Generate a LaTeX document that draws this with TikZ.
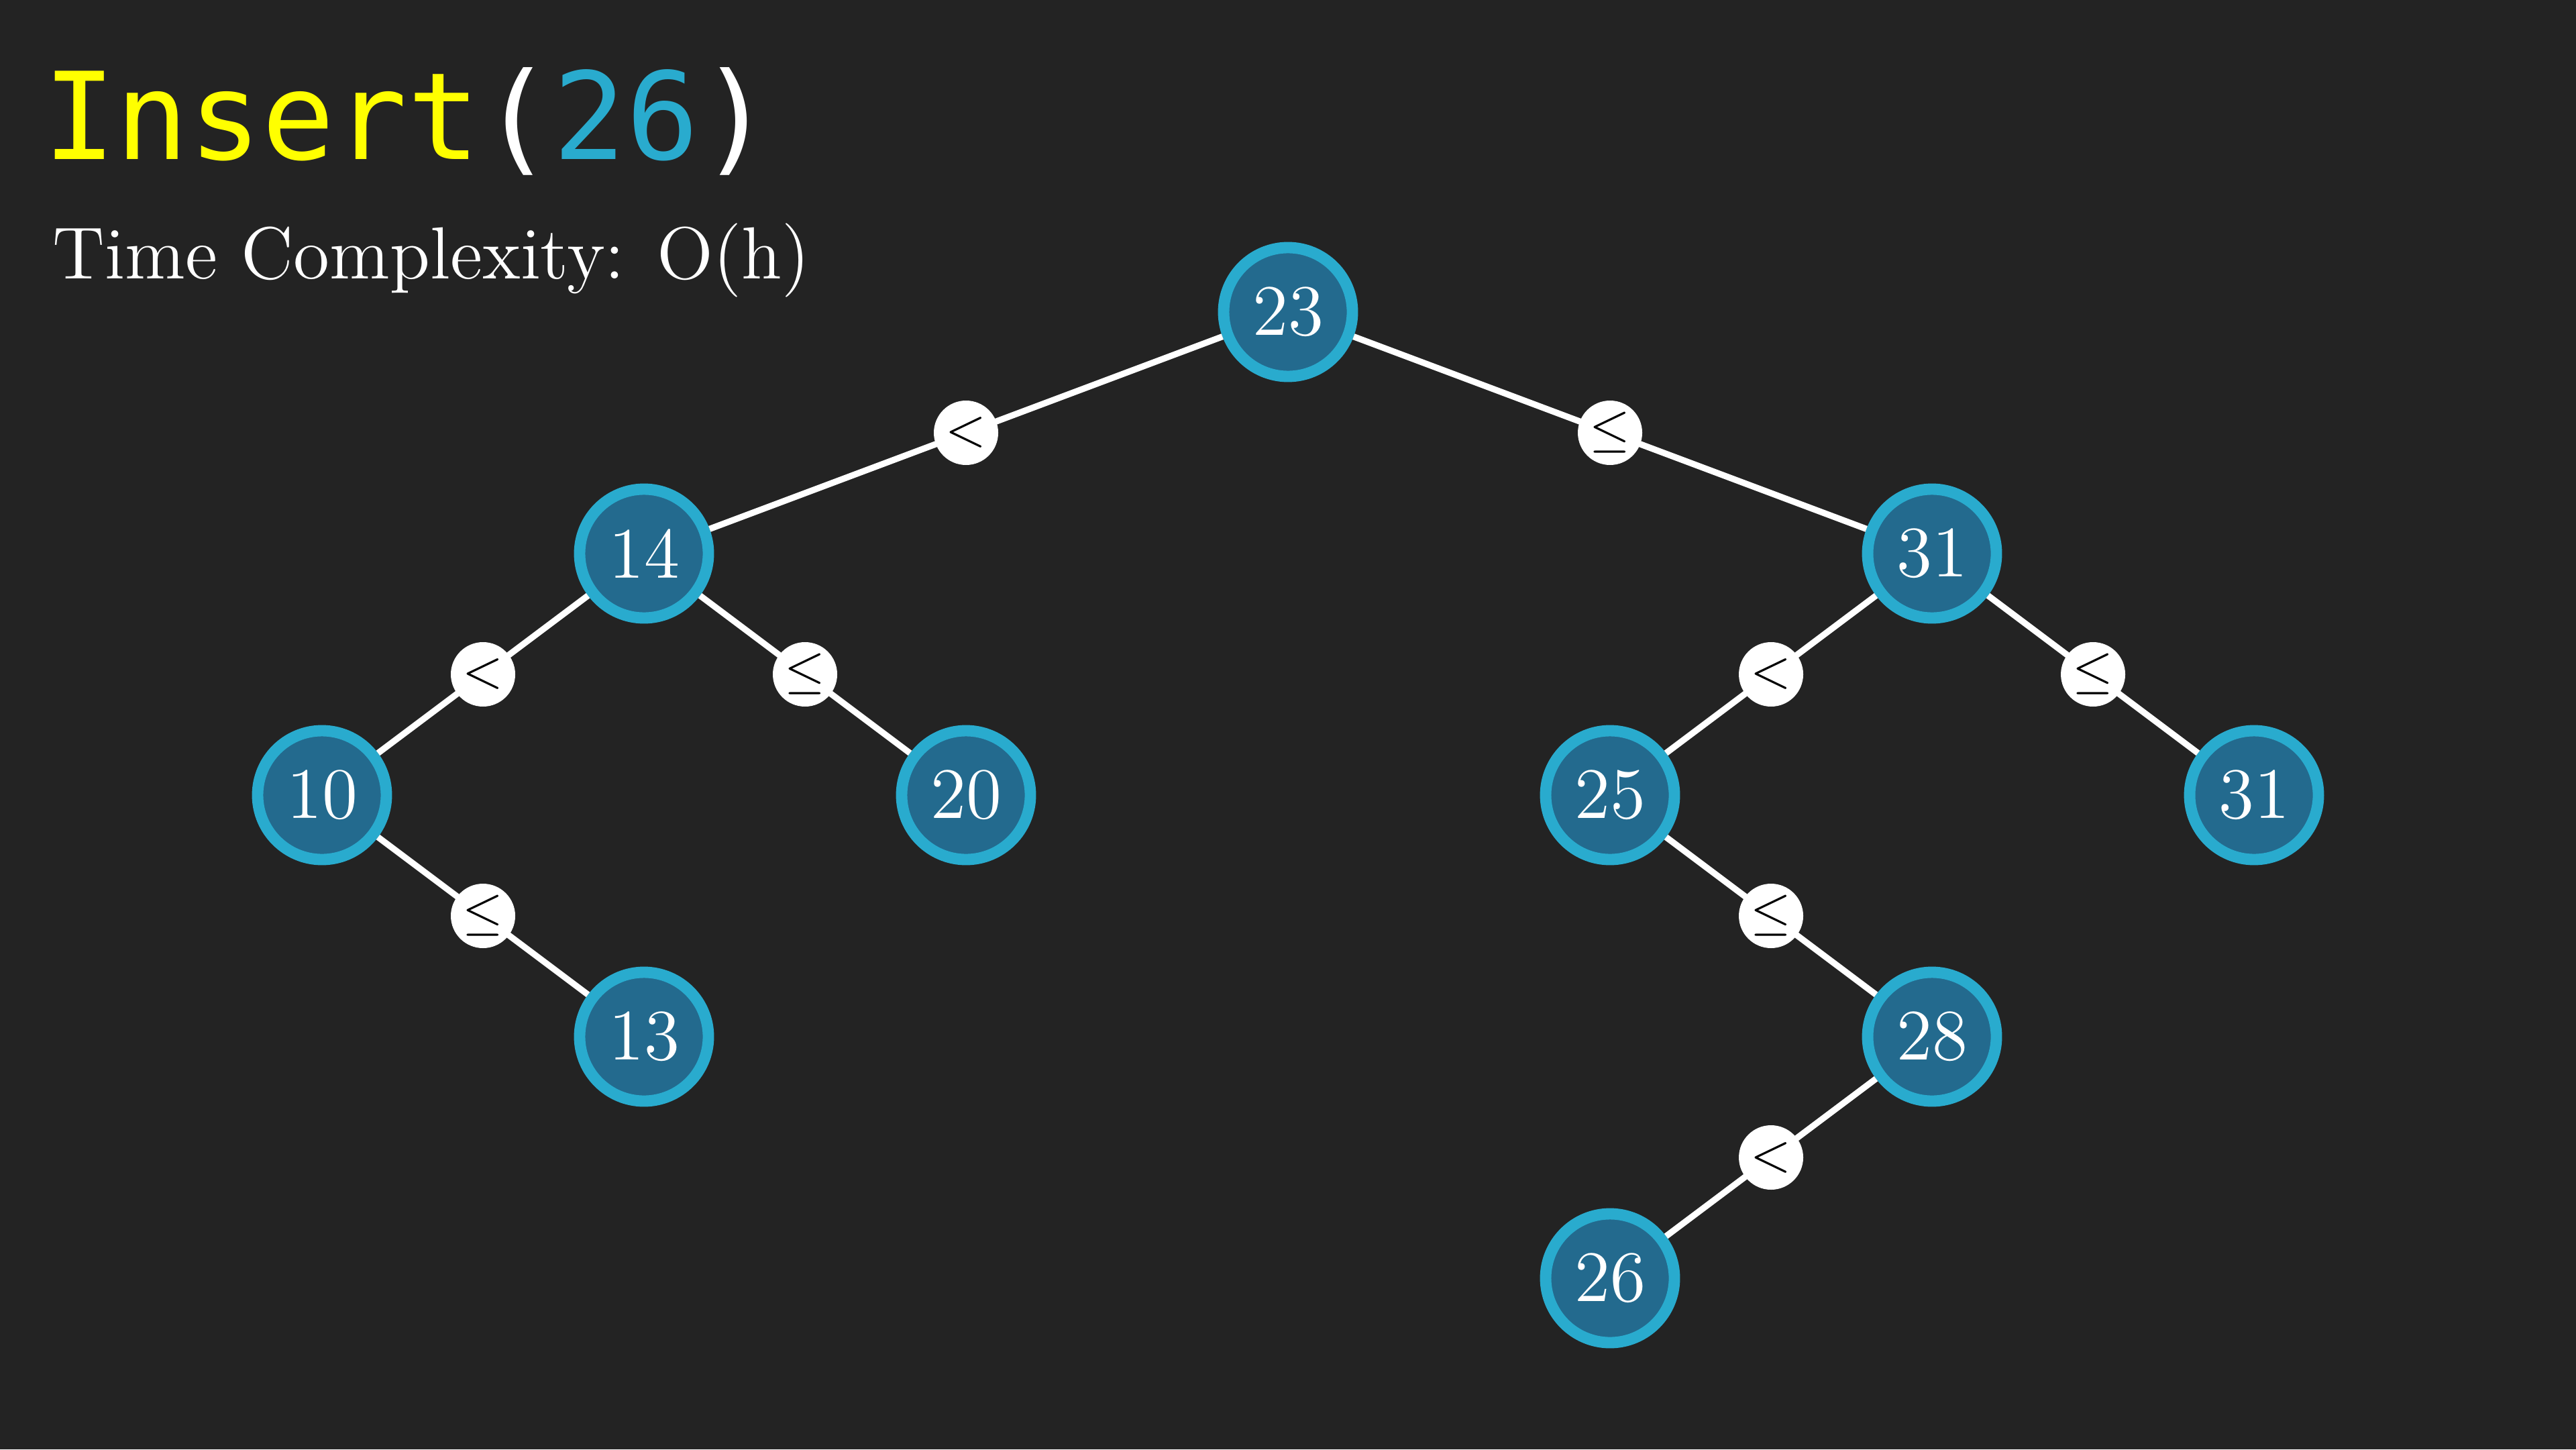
\documentclass[tikz,border=0pt]{standalone}
\usepackage{fontspec}
\usepackage{xcolor}
\usepackage{amsmath}
\usepackage{tikz}

\newfontfamily\codefont{DejaVu Sans Mono}
\definecolor{bgdark}{HTML}{232323}
\definecolor{keyfill}{HTML}{236A8E}
\definecolor{keyring}{HTML}{29ABCE}
\definecolor{callyellow}{HTML}{FFFF00}

\begin{document}
\begin{tikzpicture}[
    key/.style={circle, draw=keyring, fill=keyfill, line width=2pt, minimum size=0.8cm, inner sep=0pt, text=white, font=\fontsize{12.8}{14}\selectfont},
    cmp/.style={circle, fill=white, minimum size=0.4cm, inner sep=0pt, text=black, font=\fontsize{9}{10}\selectfont},
    link/.style={white, line width=1.1pt}
]
    % Background
    \fill[bgdark] (0,0) rectangle (16,9);
    \useasboundingbox (0,0) rectangle (16,9);

    % Heading
    \node[anchor=base west, inner sep=0pt, font=\codefont\fontsize{21.4}{24}\selectfont] (call) at (0.26,8.01)
        {\textcolor{callyellow}{Insert}\textcolor{white}{(}\textcolor{keyring}{26}\textcolor{white}{)}};
    \node[anchor=base west, inner sep=0pt, text=white, font=\fontsize{13.05}{15}\selectfont] (cost) at (0.32,7.27)
        {Time Complexity: O(h)};

    % Level 0
    \node[key] (n23) at (8,7.0625) {23};

    % Level 1
    \node[key] (n14) at (4,5.5625) {14};
    \node[key] (n31) at (12,5.5625) {31};

    % Level 2
    \node[key] (n10) at (2,4.0625) {10};
    \node[key] (n20) at (6,4.0625) {20};
    \node[key] (n25) at (10,4.0625) {25};
    \node[key] (n31b) at (14,4.0625) {31};

    % Level 3
    \node[key] (n13) at (4,2.5625) {13};
    \node[key] (n28) at (12,2.5625) {28};

    % Level 4 (new key)
    \node[key] (n26) at (10,1.0625) {26};

    % Links
    \draw[link] (n23) -- node[cmp] {$<$} (n14);
    \draw[link] (n23) -- node[cmp] {$\leq$} (n31);
    \draw[link] (n14) -- node[cmp] {$<$} (n10);
    \draw[link] (n14) -- node[cmp] {$\leq$} (n20);
    \draw[link] (n10) -- node[cmp] {$\leq$} (n13);
    \draw[link] (n31) -- node[cmp] {$<$} (n25);
    \draw[link] (n31) -- node[cmp] {$\leq$} (n31b);
    \draw[link] (n25) -- node[cmp] {$\leq$} (n28);
    \draw[link] (n28) -- node[cmp] {$<$} (n26);
\end{tikzpicture}
\end{document}
